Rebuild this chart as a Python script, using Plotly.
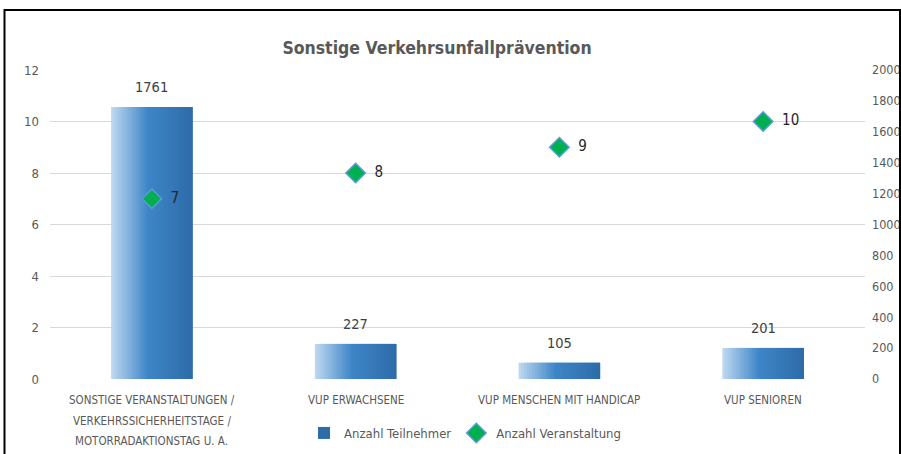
import plotly.graph_objects as go

categories = [
    "SONSTIGE VERANSTALTUNGEN /<br>VERKEHRSSICHERHEITSTAGE /<br>MOTORRADAKTIONSTAG U. A.",
    "VUP ERWACHSENE",
    "VUP MENSCHEN MIT HANDICAP",
    "VUP SENIOREN",
]
teilnehmer = [1761, 227, 105, 201]
veranstaltung = [7, 8, 9, 10]

FONT = "DejaVu Sans Condensed, Roboto, sans-serif"
GREY = "#595959"

W = 901
H = 454
ml, mr, mt, mb = 50, 36, 70, 75
pw = W - ml - mr
ph = H - mt - mb

def lerp(c1, c2, t):
    return tuple(round(a + (b - a) * t) for a, b in zip(c1, c2))

stops = [(0.0, (192, 217, 240)), (0.45, (62, 134, 200)), (1.0, (46, 107, 168))]

def grad(t):
    for (t0, c0), (t1, c1) in zip(stops, stops[1:]):
        if t <= t1:
            return lerp(c0, c1, (t - t0) / (t1 - t0))
    return stops[-1][1]

fig = go.Figure()
N = 30
bw = 0.4
sw = bw / N
for i in range(N):
    c = grad((i + 0.5) / N)
    fig.add_trace(go.Bar(
        x=categories, y=teilnehmer,
        offset=-bw / 2 + i * sw, width=min(sw * 2.5, bw - i * sw),
        marker=dict(color="rgb(%d,%d,%d)" % c, line=dict(width=0)),
        name="Anzahl Teilnehmer", legendgroup="t",
        showlegend=(i == N - 1), yaxis="y",
        hoverinfo="skip" if i != N - 1 else None,
    ))

fig.add_trace(go.Scatter(
    x=categories, y=veranstaltung, yaxis="y2",
    mode="markers+text", name="Anzahl Veranstaltung",
    marker=dict(symbol="diamond", size=15, color="#00b050",
                line=dict(color="#5b9bd5", width=1.5)),
    text=["  " + str(v) for v in veranstaltung], textposition="middle right",
    textfont=dict(family=FONT, size=15, color="#262626"),
))

for c, v in zip(categories, teilnehmer):
    fig.add_annotation(x=c, y=v, yref="y", xref="x", text=str(v),
                       showarrow=False, yanchor="bottom", yshift=10,
                       font=dict(family=FONT, size=14.5, color="#404040"))

# category labels, one line per annotation (Excel-like line spacing)
for c in categories:
    for k, line in enumerate(c.split("<br>")):
        fig.add_annotation(x=c, xref="x", y=0, yref="paper", text=line,
                           showarrow=False, yanchor="middle",
                           yshift=-(21 + 20.5 * k),
                           font=dict(family=FONT, size=11.5, color=GREY))

fig.add_shape(type="rect", xref="paper", yref="paper",
              x0=(4.5 - ml) / pw, x1=(900 - ml) / pw,
              y0=-0.4, y1=(H - mb - 10) / ph,
              line=dict(color="black", width=2), fillcolor="rgba(0,0,0,0)")

fig.update_layout(
    width=W, height=H,
    margin=dict(l=ml, r=mr, t=mt, b=mb, autoexpand=False),
    paper_bgcolor="white", plot_bgcolor="white",
    barmode="overlay",
    title=dict(text="<b>Sonstige Verkehrsunfallprävention</b>",
               x=437 / W, xanchor="center", y=1 - 48 / H, yanchor="middle",
               font=dict(family=FONT, size=17.5, color=GREY)),
    xaxis=dict(showgrid=False, showline=False, zeroline=False, automargin=False,
               showticklabels=False, ticks=""),
    yaxis=dict(side="right", range=[0, 2000], dtick=200, showgrid=False,
               zeroline=False, showline=False, ticklabelstandoff=6, automargin=False,
               tickfont=dict(family=FONT, size=12.5, color=GREY)),
    yaxis2=dict(side="left", overlaying="y", range=[0, 12], dtick=2,
                showgrid=True, gridcolor="#d9d9d9", gridwidth=1, automargin=False,
                zeroline=False, showline=False, ticklabelstandoff=10,
                tickfont=dict(family=FONT, size=13, color=GREY)),
    legend=dict(orientation="h", x=(465 - ml) / pw, xanchor="center",
                y=(H - mb - 433) / ph, yanchor="middle",
                font=dict(family=FONT, size=13, color=GREY),
                itemwidth=30, traceorder="normal"),
    showlegend=True,
)

fig.write_html("out.html", config={"displayModeBar": False},
               post_script="document.body.style.margin='0';")
